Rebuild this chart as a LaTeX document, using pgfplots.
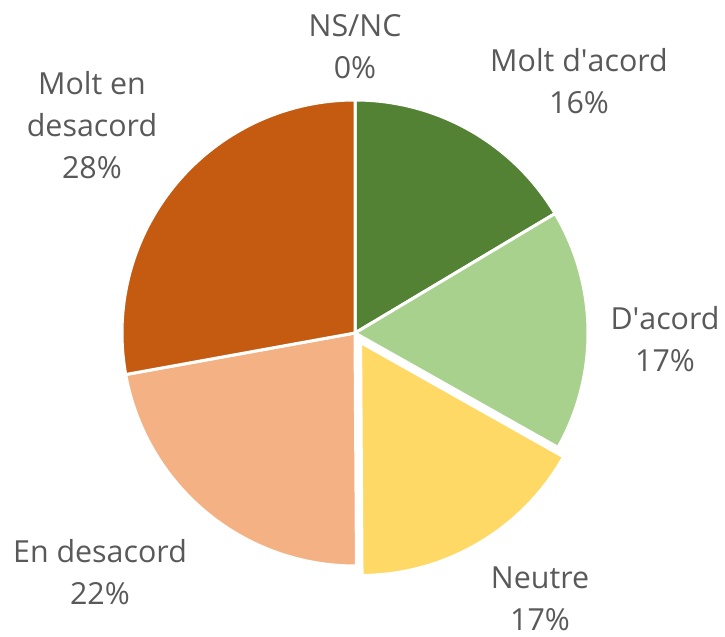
\documentclass[border=0pt]{standalone}
\usepackage{pgfplots}
\pgfplotsset{compat=1.18}
\usepackage{fontspec}
\setmainfont{Open Sans}
\definecolor{cMA}{HTML}{548235}
\definecolor{cA}{HTML}{A9D18E}
\definecolor{cN}{HTML}{FFD966}
\definecolor{cD}{HTML}{F4B183}
\definecolor{cMD}{HTML}{C55A11}
\definecolor{txt}{HTML}{595959}
% data (percent)
\def\vMA{16.4}
\def\vA{16.7}
\def\vN{16.7}
\def\vD{22.2}
\def\vMD{27.8}
\def\vNS{0}
\pgfmathsetmacro\S{\vMA+\vA+\vN+\vD+\vMD+\vNS}
\pgfmathsetmacro\aO{90}
\pgfmathsetmacro\aI{\aO-360*\vMA/\S}
\pgfmathsetmacro\aII{\aI-360*\vA/\S}
\pgfmathsetmacro\aIII{\aII-360*\vN/\S}
\pgfmathsetmacro\aIV{\aIII-360*\vD/\S}
\pgfmathsetmacro\aV{\aIV-360*\vMD/\S}
\def\cx{355}
\def\cy{304}
\def\r{233}
\pgfmathsetmacro\bis{(\aII+\aIII)/2}
\pgfmathsetmacro\ex{\cx+11*cos(\bis)}
\pgfmathsetmacro\ey{\cy+11*sin(\bis)}
\begin{document}
\begin{tikzpicture}
\begin{axis}[width=725bp, height=637bp, scale only axis, xmin=0, xmax=725, ymin=0, ymax=637, hide axis, clip=false,
  every axis plot/.append style={draw=white, line width=3bp, line join=round}]
\addplot[fill=cMA, domain=\aI:\aO, samples=80, variable=\t] ({\cx+\r*cos(\t)},{\cy+\r*sin(\t)}) -- (axis cs:\cx,\cy) -- cycle;
\addplot[fill=cA, domain=\aII:\aI, samples=80, variable=\t] ({\cx+\r*cos(\t)},{\cy+\r*sin(\t)}) -- (axis cs:\cx,\cy) -- cycle;
\addplot[fill=cD, domain=\aIV:\aIII, samples=80, variable=\t] ({\cx+\r*cos(\t)},{\cy+\r*sin(\t)}) -- (axis cs:\cx,\cy) -- cycle;
\addplot[fill=cMD, domain=\aV:\aIV, samples=80, variable=\t] ({\cx+\r*cos(\t)},{\cy+\r*sin(\t)}) -- (axis cs:\cx,\cy) -- cycle;
\addplot[fill=cN, domain=\aIII:\aII, samples=80, variable=\t] ({\ex+\r*cos(\t)},{\ey+\r*sin(\t)}) -- (axis cs:\ex,\ey) -- cycle;
\path (axis cs:0,0) (axis cs:725,637);
\tikzset{lab/.style={align=center, text=txt, font=\fontsize{30.5}{42}\selectfont, inner sep=0pt}}
\node[lab] at (axis cs:355,590) {NS/NC\\0\%};
\node[lab] at (axis cs:579,556) {Molt d\textquotesingle acord\\16\%};
\node[lab] at (axis cs:665,298) {D\textquotesingle acord\\17\%};
\node[lab] at (axis cs:540,38) {Neutre\\17\%};
\node[lab] at (axis cs:100,65) {En desacord\\22\%};
\node[lab] at (axis cs:92,512) {Molt en\\desacord\\28\%};
\end{axis}
\end{tikzpicture}
\end{document}
